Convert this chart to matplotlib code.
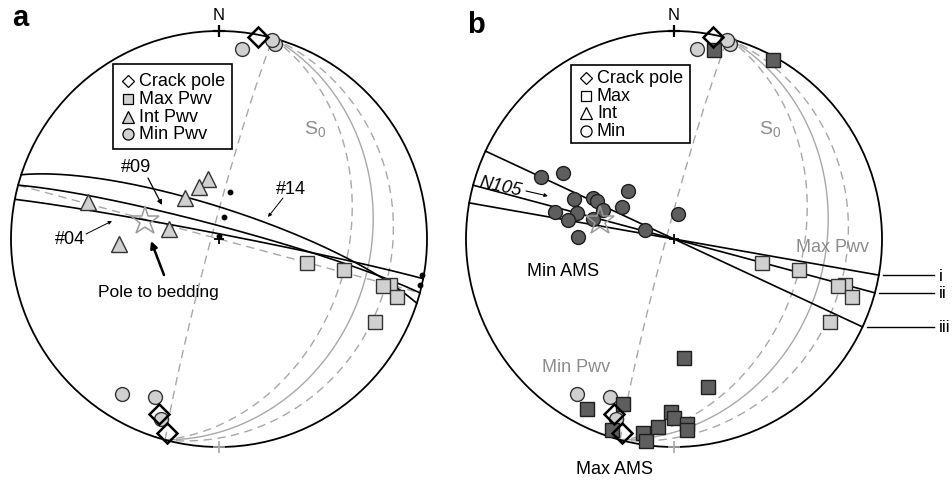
import numpy as np
import matplotlib
matplotlib.use("Agg")
import matplotlib.pyplot as plt
from matplotlib.patches import Circle, Rectangle

plt.rcParams["font.family"] = ["Liberation Sans", "DejaVu Sans"]
plt.rcParams["mathtext.fontset"] = "custom"
plt.rcParams["mathtext.rm"] = "Liberation Sans"

# ---- data: lines as (trend, plunge), planes as (strike, dip) right-hand rule ----
crack_trend = [11, 199, 195]
crack_plunge = [1, 12, 4]

max_pwv_trend = [105, 104, 105, 106, 108, 118]
max_pwv_plunge = [54, 38, 16, 19, 11, 16]
int_pwv_trend = [286, 320, 350, 339, 281, 267]
int_pwv_plunge = [35, 69, 66, 68, 70, 50]
min_pwv_trend = [7, 16, 15, 212, 202, 198]
min_pwv_plunge = [9, 3, 1, 13, 19, 10]

bedding_pole = (284, 60)
dot_trend = [13, 13, 5, 100, 103]
dot_plunge = [71, 81, 89, 1, 1]

# AMS axes (panel b)
min_ams_trend = [295, 301, 316, 292, 297, 296, 302, 283, 285, 280, 292, 284, 9, 287, 271]
min_ams_plunge = [30, 38, 64, 47, 54, 56, 66, 41, 50, 47, 60, 57, 80, 78, 52]
max_ams_trend = [12, 29, 175, 167, 207, 197, 198, 189, 188, 185, 181, 180, 176, 176]
max_ams_plunge = [8, 2, 42, 28, 9, 18, 4, 6, 2, 10, 18, 15, 12, 9]

# planes
s0_plane = (15, 28)
s0_envelope_dips = [38, 18]
ns_plane = (195, 87)
ew_plane = (285, 90)
crack_names = ["#14", "#09", "#04"]
crack_strike = [288, 285, 281]
crack_dip = [78, 85, 88]
ams_names = ["i", "ii", "iii"]
ams_strike = [100, 105, 115]

# ---- layout (pixels) ----
W, H = 952, 481
R = 208.0
CY = 240
LIGHT = "#d0d0d0"
DARK = "#5e5e5e"
GRAY = "#a8a8a8"


def project(trend, plunge):
    t = np.radians(np.asarray(trend, float))
    p = np.radians(np.asarray(plunge, float))
    r = np.sqrt(1 - np.sin(p))
    return r * np.sin(t), r * np.cos(t)


def great_circle(strike, dip, n=241):
    s = np.radians(strike)
    d = np.radians(dip)
    rake = np.linspace(0, np.pi, n)
    sv = np.array([np.sin(s), np.cos(s), 0.0])
    dd = s + np.pi / 2
    dv = np.array([np.sin(dd) * np.cos(d), np.cos(dd) * np.cos(d), np.sin(d)])
    v = np.outer(np.cos(rake), sv) + np.outer(np.sin(rake), dv)
    e, nn, z = v.T
    k = 1 / np.sqrt(1 + np.clip(z, 0, 1))
    return e * k, nn * k


fig = plt.figure(figsize=(W / 100, H / 100), dpi=100)


def panel_axes(cx):
    ax = fig.add_axes([0, 0, 1, 1], label=str(cx))
    ax.set_xlim(-cx / R, (W - cx) / R)
    ax.set_ylim((CY - H) / R, CY / R)
    ax.set_axis_off()
    ax.patch.set_alpha(0)
    return ax


def P(cx, px, py):
    return (px - cx) / R, (CY - py) / R


def draw_base(ax, cx, letter, letter_y):
    ax.add_patch(Circle((0, 0), 1, fill=False, lw=1.3, ec="black", zorder=6))
    x, y = great_circle(*s0_plane)
    ax.plot(x, y, color=GRAY, lw=1.0, zorder=2)
    for d in s0_envelope_dips:
        x, y = great_circle(s0_plane[0], d)
        ax.plot(x, y, color=GRAY, lw=1.0, ls=(0, (6, 4)), zorder=2)
    x, y = great_circle(*ns_plane)
    ax.plot(x, y, color=GRAY, lw=1.0, ls=(0, (6, 4)), zorder=2)
    ax.plot([0], [1], marker="+", ms=8, mew=1.6, color="black", zorder=7)
    ax.plot([0], [-1], marker="+", ms=8, mew=1.2, color=GRAY, zorder=7)
    ax.plot([0], [0], marker="+", ms=7, mew=1.3, color="black", zorder=7)
    ax.text(*P(cx, cx, 16), "N", ha="center", va="center", fontsize=12)
    ax.text(*P(cx, cx + 96, 130), "S$_0$", ha="center", va="center",
            fontsize=14, color="#8c8c8c")
    ax.text(*P(cx, cx - 207, letter_y), letter, ha="left", va="baseline",
            fontsize=21, fontweight="bold")


def pts(ax, trend, plunge, marker, fc, ec="#333333", ms=10, mew=1.0, z=8):
    x, y = project(trend, plunge)
    for xi, yi in zip(x, y):
        ax.plot(xi, yi, marker=marker, ms=ms, mfc=fc, mec=ec, mew=mew,
                ls="none", zorder=z)


def legend_box(ax, cx, x0, y0, x1, y1, rows, labels, handles):
    bx, by = P(cx, x0, y1)
    ax.add_patch(Rectangle((bx, by), (x1 - x0) / R, (y1 - y0) / R,
                           fc="white", ec="black", lw=1.2, zorder=9))
    for ry, lab, (m, fc, ms) in zip(rows, labels, handles):
        ax.plot(*P(cx, x0 + 15, ry), marker=m, ms=ms, mfc=fc, mec="black",
                mew=0.9, zorder=10)
        ax.text(*P(cx, x0 + 26, ry), lab, ha="left", va="center",
                fontsize=13, zorder=10)


def arrow(ax, cx, txy, sxy, lw=0.9, ms=7):
    ax.annotate("", xy=P(cx, *txy), xytext=P(cx, *sxy),
                arrowprops=dict(arrowstyle="-|>", lw=lw, color="black",
                                mutation_scale=ms, shrinkA=0, shrinkB=0),
                zorder=9)


# ================= panel a =================
CXA = 219
ax = panel_axes(CXA)
draw_base(ax, CXA, "a", 26)
x, y = great_circle(*ew_plane)
ax.plot(x, y, color=GRAY, lw=1.0, ls=(0, (6, 4)), zorder=2)
for s, d in zip(crack_strike, crack_dip):
    x, y = great_circle(s, d)
    ax.plot(x, y, color="black", lw=1.2, zorder=4)
dx, dy = project(dot_trend, dot_plunge)
ax.plot(dx, dy, "o", ms=3.2, color="black", zorder=5)

pts(ax, max_pwv_trend, max_pwv_plunge, "s", LIGHT)
pts(ax, int_pwv_trend, int_pwv_plunge, "^", LIGHT, ms=11)
pts(ax, min_pwv_trend, min_pwv_plunge, "o", LIGHT)
pts(ax, crack_trend, crack_plunge, "D", "none", ec="black", ms=10, mew=1.8, z=9)
px_, py_ = project(*bedding_pole)
ax.plot(px_, py_, marker="*", ms=21, mfc="none", mec="#9a9a9a", mew=1.1, zorder=8)

legend_box(ax, CXA, 113, 65, 232, 150, [82, 100, 118, 135],
           ["Crack pole", "Max Pwv", "Int Pwv", "Min Pwv"],
           [("D", "white", 6), ("s", LIGHT, 7), ("^", LIGHT, 8), ("o", LIGHT, 8)])

ax.text(*P(CXA, 136, 168), "#09", ha="center", va="center", fontsize=13)
arrow(ax, CXA, (162, 206), (148, 179))
ax.text(*P(CXA, 291, 190), "#14", ha="center", va="center", fontsize=13)
arrow(ax, CXA, (268, 218), (283, 199), lw=0.7, ms=5)
ax.text(*P(CXA, 70, 240), "#04", ha="center", va="center", fontsize=13)
arrow(ax, CXA, (112, 222), (86, 235), lw=0.7, ms=5)
ax.text(*P(CXA, 158, 293), "Pole to bedding", ha="center", va="center", fontsize=12.5)
arrow(ax, CXA, (151, 242), (164, 276), lw=1.8, ms=10)

# ================= panel b =================
CXB = 674
ax = panel_axes(CXB)
draw_base(ax, CXB, "b", 33)
for s, name in zip(ams_strike, ams_names):
    x, y = great_circle(s, 90)
    ax.plot(x, y, color="black", lw=1.2, zorder=4)
    ex, ey = project(s, 0)
    ax.plot([ex + 0.02, (934 - CXB) / R], [ey, ey], color="black", lw=1.0)
    ax.text((939 - CXB) / R, ey, name, ha="left", va="center", fontsize=12.5)

pts(ax, max_pwv_trend, max_pwv_plunge, "s", LIGHT)
pts(ax, min_pwv_trend, min_pwv_plunge, "o", LIGHT)
pts(ax, min_ams_trend, min_ams_plunge, "o", DARK, ec="#1e1e1e")
pts(ax, max_ams_trend, max_ams_plunge, "s", DARK, ec="#1e1e1e")
pts(ax, crack_trend, crack_plunge, "D", "none", ec="black", ms=10, mew=1.8, z=9)
ax.plot(px_, py_, marker="*", ms=21, mfc="none", mec="#9a9a9a", mew=1.1, zorder=8)

legend_box(ax, CXB, 571, 66, 690, 144, [79, 97, 114, 132],
           ["Crack pole", "Max", "Int", "Min"],
           [("D", "white", 6), ("s", "white", 7), ("^", "white", 8), ("o", "white", 8)])

ax.text(*P(CXB, 500, 187), "N105", ha="center", va="center", fontsize=13,
        style="italic", rotation=-12)
arrow(ax, CXB, (548, 197), (526, 192), lw=0.8, ms=5)
ax.text(*P(CXB, 563, 272), "Min AMS", ha="center", va="center", fontsize=13)
ax.text(*P(CXB, 615, 470), "Max AMS", ha="center", va="center", fontsize=13)
ax.text(*P(CXB, 832, 248), "Max Pwv", ha="center", va="center", fontsize=13,
        color="#8c8c8c")
ax.text(*P(CXB, 576, 368), "Min Pwv", ha="center", va="center", fontsize=13,
        color="#8c8c8c")

fig.savefig("out.png", dpi=100)
